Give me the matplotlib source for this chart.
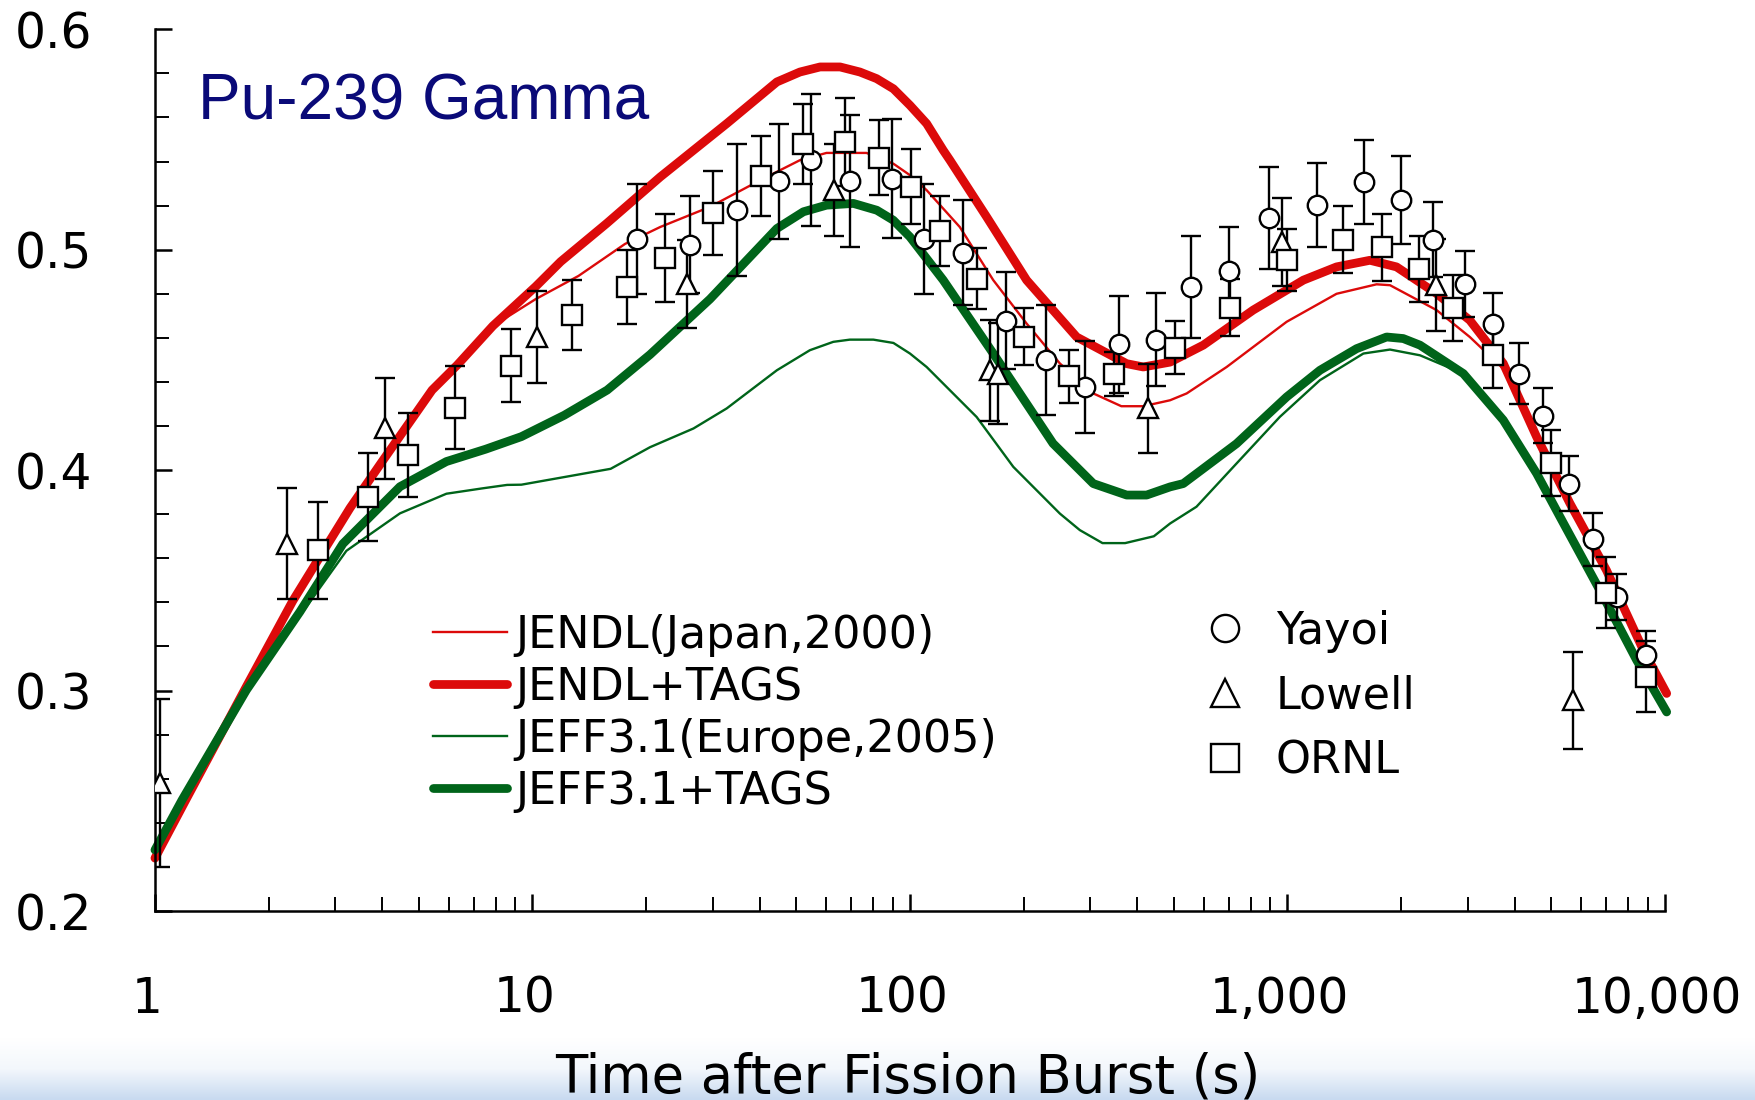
import numpy as np
import matplotlib
matplotlib.use("Agg")
import matplotlib.pyplot as plt
from matplotlib.colors import LinearSegmentedColormap
from matplotlib.transforms import ScaledTranslation
from matplotlib.ticker import (FixedLocator, FuncFormatter, LogLocator,
                               MultipleLocator, NullFormatter)

# --- calculated curves: time after burst (s), value ---
jendl_t = [1.0, 1.206, 1.746, 2.318, 2.760, 3.286, 3.997, 5.420, 6.314,
           7.852, 8.561, 10.20, 13.24, 17.58, 21.8, 29.5, 40.1, 51.1, 60.1,
           76.7, 90.4, 100, 110.7, 135.5, 166.2, 203.7, 249.5, 305.9, 363,
           415, 488.7, 540.8, 690.2, 995, 1349, 1722, 1869, 2483, 3041, 3730,
           4571, 5598, 6998, 8763, 10104]
jendl_y = [0.224, 0.2503, 0.3018, 0.3407, 0.3618, 0.3828, 0.4039, 0.4363,
           0.4476, 0.4654, 0.4694, 0.4776, 0.4881, 0.5026, 0.5103, 0.5194,
           0.5315, 0.5406, 0.5439, 0.5439, 0.539, 0.5338, 0.527, 0.5103,
           0.4862, 0.4665, 0.4484, 0.4348, 0.429, 0.429, 0.4317, 0.4348,
           0.4468, 0.4673, 0.480, 0.4843, 0.4839, 0.4726, 0.4604, 0.446,
           0.4151, 0.385, 0.3546, 0.3184, 0.2987]

jendl_tags_t = [1.0, 1.206, 1.746, 2.318, 2.760, 3.286, 3.997, 5.420, 6.314,
                7.852, 10.20, 11.88, 15.72, 21.8, 32.7, 44.4, 51.1, 57.8,
                65.3, 73.7, 81.6, 90.4, 100, 110.7, 122.5, 127.6, 159.6,
                203.7, 276.4, 375, 415, 488.7, 598.4, 811, 1102, 1349, 1654,
                1945, 2483, 3041, 3730, 4571, 5598, 6998, 8763, 10104]
jendl_tags_y = [0.224, 0.2503, 0.3018, 0.3407, 0.3618, 0.3828, 0.4039,
                0.4363, 0.4476, 0.4654, 0.4833, 0.4946, 0.5119, 0.533,
                0.5572, 0.5761, 0.5806, 0.5829, 0.5829, 0.5806, 0.5776,
                0.573, 0.5655, 0.5572, 0.5451, 0.5406, 0.5149, 0.4862,
                0.4604, 0.4483, 0.4468, 0.449, 0.4567, 0.4726, 0.4862,
                0.4922, 0.4952, 0.4922, 0.4801, 0.468, 0.4484, 0.4151, 0.385,
                0.3546, 0.3184, 0.2987]

jeff_t = [1.0, 1.179, 1.746, 2.422, 3.214, 4.457, 5.916, 7.345, 8.566, 9.346,
          16.11, 20.48, 26.7, 32.7, 44.4, 54.3, 62.64, 69.3, 80.0, 90.4, 100,
          110.7, 150.2, 187.8, 249.5, 281.8, 323.6, 371.5, 442.6, 488.7,
          574.1, 732.8, 955, 1219, 1589, 1869, 2244, 2924, 3730, 4571, 5272,
          6871, 8414, 10104]
jeff_y = [0.2277, 0.2503, 0.3002, 0.334, 0.3634, 0.3804, 0.3893, 0.3917,
          0.3933, 0.3934, 0.4006, 0.4104, 0.4189, 0.428, 0.4453, 0.4544,
          0.4582, 0.4592, 0.4592, 0.4577, 0.4529, 0.4468, 0.4241, 0.4015,
          0.3803, 0.3728, 0.3669, 0.3669, 0.370, 0.3758, 0.3834, 0.403,
          0.4242, 0.4408, 0.4529, 0.4547, 0.4521, 0.4438, 0.4227, 0.3985,
          0.3788, 0.3425, 0.3138, 0.2903]

jeff_tags_t = [1.0, 1.179, 1.746, 2.422, 3.146, 4.457, 5.916, 7.516, 9.346,
               12.14, 15.77, 20.48, 29.53, 44.4, 52.2, 60.1, 70.8, 81.7, 90.3,
               100, 122.5, 166.2, 239.3, 305.9, 375, 423.6, 488.7, 529.6,
               732.8, 995, 1219, 1524, 1831, 2026, 2244, 2924, 3730, 4571,
               5272, 6871, 8414, 10104]
jeff_tags_y = [0.2277, 0.2503, 0.3002, 0.3358, 0.3666, 0.3925, 0.4039,
               0.4095, 0.4152, 0.4249, 0.4363, 0.4524, 0.4776, 0.5096,
               0.5172, 0.5202, 0.521, 0.5179, 0.5134, 0.5058, 0.4862, 0.4529,
               0.4121, 0.3939, 0.3887, 0.3887, 0.3924, 0.3939, 0.412, 0.4332,
               0.4453, 0.4551, 0.4604, 0.4597, 0.4567, 0.4438, 0.4227,
               0.3985, 0.3788, 0.3425, 0.3138, 0.2903]

# --- measurements ---
yayoi_t = [18.95, 26.12, 34.87, 45.08, 54.67, 69.34, 89.74, 108.9, 138.4,
           179.7, 228.6, 290.8, 358.1, 447.7, 554.0, 701.5, 895.4, 1194,
           1594, 1999, 2424, 2951, 3508, 4111, 4762, 5572, 6457, 7447, 8913]
yayoi_y = [0.5048, 0.5023, 0.5179, 0.531, 0.5406, 0.531, 0.5322, 0.5048,
           0.4987, 0.4677, 0.4499, 0.4378, 0.4571, 0.4592, 0.4831, 0.4904,
           0.5144, 0.5202, 0.5307, 0.5227, 0.5046, 0.4844, 0.4665, 0.4438,
           0.4246, 0.3938, 0.3687, 0.3425, 0.3161]
yayoi_err = [0.025, 0.022, 0.030, 0.026, 0.030, 0.030, 0.027, 0.025, 0.024,
             0.022, 0.025, 0.021, 0.022, 0.021, 0.023, 0.020, 0.023, 0.019,
             0.019, 0.020, 0.017, 0.015, 0.014, 0.014, 0.0125, 0.0125, 0.012,
             0.0105, 0.011]

lowell_t = [1.031, 2.234, 4.064, 10.26, 25.70, 63.04, 162.9, 171.4, 427.6,
            968.3, 2470, 5715]
lowell_y = [0.258, 0.3667, 0.4189, 0.4604, 0.4846, 0.527, 0.4453, 0.4438,
            0.428, 0.5035, 0.4839, 0.2957]
lowell_err = [0.038, 0.025, 0.023, 0.021, 0.020, 0.021, 0.023, 0.023, 0.020,
              0.020, 0.021, 0.022]

ornl_t = [2.709, 3.673, 4.688, 6.233, 8.753, 12.69, 17.84, 22.44, 30.13,
          40.22, 52.18, 67.27, 82.79, 100.4, 120.1, 150.2, 200.9, 264.2,
          346.7, 503.5, 704.7, 1000, 1406, 1782, 2234, 2748, 3495, 4989,
          6978, 8913]
ornl_y = [0.3637, 0.3879, 0.4068, 0.4284, 0.4473, 0.4703, 0.4831, 0.4962,
          0.5167, 0.5334, 0.5479, 0.5489, 0.5418, 0.5285, 0.5084, 0.4869,
          0.4605, 0.4426, 0.4438, 0.4556, 0.4737, 0.4952, 0.5046, 0.501,
          0.4914, 0.4737, 0.4521, 0.4033, 0.3444, 0.3063]
ornl_err = [0.022, 0.020, 0.019, 0.019, 0.0166, 0.016, 0.0167, 0.020, 0.019,
            0.018, 0.018, 0.020, 0.017, 0.017, 0.016, 0.014, 0.013, 0.012,
            0.010, 0.012, 0.013, 0.014, 0.015, 0.015, 0.015, 0.015, 0.015,
            0.015, 0.016, 0.016]

RED = "#dc0a0a"
GREEN = "#00641a"

plt.rcParams["font.family"] = ["DejaVu Sans"]

fig = plt.figure(figsize=(17.55, 11), dpi=100)

# light blue slide strip at the bottom
band = fig.add_axes([0, 0, 1, 62 / 1100], zorder=-1)
band_cmap = LinearSegmentedColormap.from_list(
    "band", ["#ffffff", "#f3f7fc", "#c8daf0"])
band.imshow(np.linspace(0, 1, 80).reshape(-1, 1), cmap=band_cmap,
            aspect="auto", extent=[0, 1, 0, 1])
band.axis("off")

ax = fig.add_axes([0.0883, 0.1718, 0.8604, 0.8016])

l1, = ax.plot(jendl_t, jendl_y, color=RED, lw=1.7, label="JENDL(Japan,2000)")
l2, = ax.plot(jendl_tags_t, jendl_tags_y, color=RED, lw=6.3,
              solid_capstyle="round", solid_joinstyle="round",
              label="JENDL+TAGS")
l3, = ax.plot(jeff_t, jeff_y, color=GREEN, lw=1.7,
              label="JEFF3.1(Europe,2005)")
l4, = ax.plot(jeff_tags_t, jeff_tags_y, color=GREEN, lw=6.3,
              solid_capstyle="round", solid_joinstyle="round",
              label="JEFF3.1+TAGS")
for ln in (l1, l2, l3, l4):
    ln.set_clip_on(False)

eb_style = dict(ms=14, mfc="white", mec="black", mew=1.7, ecolor="black",
                elinewidth=1.7, capsize=7, capthick=1.7, zorder=4,
                linestyle="none")
e_yayoi = ax.errorbar(yayoi_t, yayoi_y, yerr=yayoi_err, marker="o", **eb_style)
e_lowell = ax.errorbar(lowell_t, lowell_y, yerr=lowell_err, marker="^", **eb_style)
e_ornl = ax.errorbar(ornl_t, ornl_y, yerr=ornl_err, marker="s", **eb_style)

ax.set_xscale("log")
ax.set_xlim(1, 10000)
ax.set_ylim(0.2, 0.6)
ax.xaxis.set_major_locator(FixedLocator([1, 10, 100, 1000, 10000]))
ax.xaxis.set_major_formatter(FuncFormatter(lambda v, p: f"{v:,.0f}"))
ax.xaxis.set_minor_locator(LogLocator(base=10, subs=np.arange(2, 10)))
ax.xaxis.set_minor_formatter(NullFormatter())
ax.yaxis.set_major_locator(MultipleLocator(0.1))
ax.yaxis.set_minor_locator(MultipleLocator(0.02))
ax.yaxis.set_major_formatter(FuncFormatter(lambda v, p: f"{v:.1f}"))

ax.tick_params(which="both", direction="in", color="black")
ax.tick_params(which="major", length=12, width=1.8)
ax.tick_params(which="minor", length=10, width=1.4)
ax.tick_params(axis="x", which="major", labelsize=35, pad=46)
ax.tick_params(axis="y", which="major", labelsize=35, pad=45)

# x labels sit a little left of their ticks in the original
shift = ScaledTranslation(-8 / 100, 0, fig.dpi_scale_trans)
for tick in ax.xaxis.get_major_ticks():
    tick.label1.set_transform(tick.label1.get_transform() + shift)

for side in ("top", "right"):
    ax.spines[side].set_visible(False)
for side in ("left", "bottom"):
    ax.spines[side].set_linewidth(1.8)

ax.text(0.0285, 0.898, "Pu-239 Gamma", transform=ax.transAxes, fontsize=46,
        color="#0a0a78", family=["Liberation Sans", "DejaVu Sans"],
        ha="left", va="baseline")

leg1 = ax.legend(handles=[l1, l2, l3, l4], loc="upper left",
                 bbox_to_anchor=(0.2467, 0.4418),
                 bbox_transform=fig.transFigure, frameon=False, fontsize=32,
                 borderpad=0, borderaxespad=0, handlelength=1.67,
                 handletextpad=0.18, labelspacing=0.2)
ax.add_artist(leg1)
ax.legend(handles=[e_yayoi[0], e_lowell[0], e_ornl[0]],
          labels=["Yayoi", "Lowell", "ORNL"], loc="upper left",
          bbox_to_anchor=(0.6855, 0.4455), bbox_transform=fig.transFigure,
          frameon=False, fontsize=32, borderpad=0, borderaxespad=0,
          handlelength=1.0, handletextpad=0.64, labelspacing=0.49,
          numpoints=1, markerscale=1.4)

fig.text(0.5174, 0.0064, "Time after Fission Burst (s)", fontsize=38,
         ha="center", va="baseline")

fig.savefig("out.png", dpi=100)
